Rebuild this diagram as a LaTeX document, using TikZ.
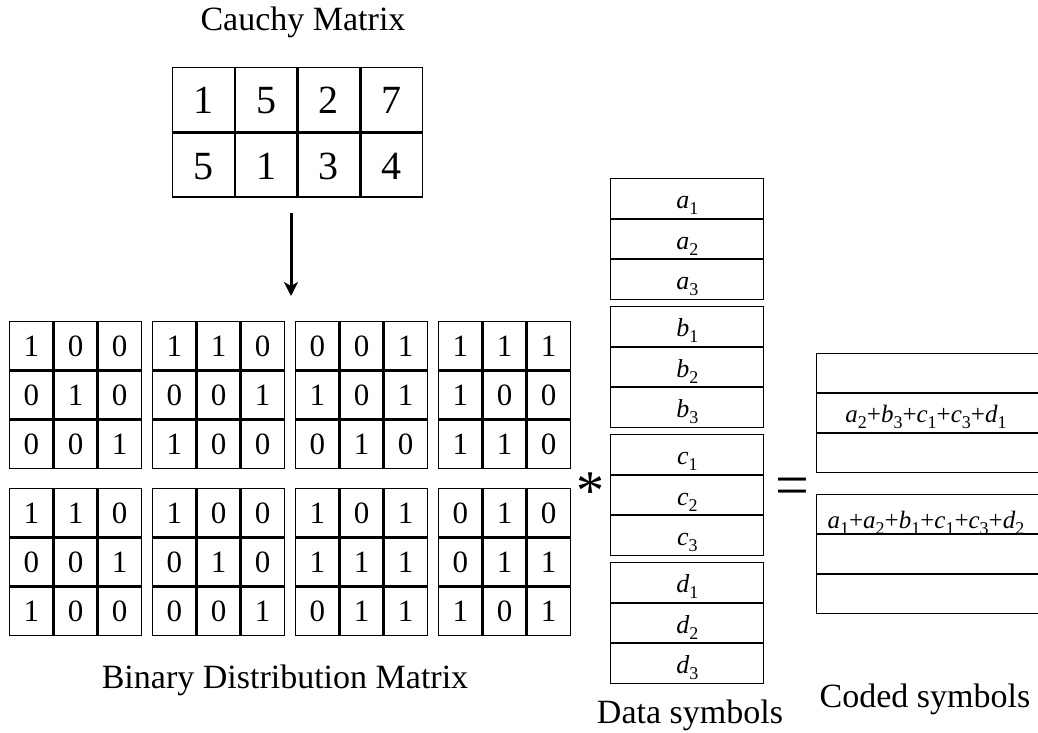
\documentclass[tikz,border=0pt]{standalone}
\usepackage{fontspec}
\setmainfont{Liberation Serif}
\usetikzlibrary{matrix,positioning,arrows.meta}
\tikzset{>={Stealth[length=14pt,width=14pt,inset=4pt]}}
\newcommand{\dsym}[2]{\textit{#1}\raisebox{-6pt}{\fontsize{18}{18}\selectfont #2}}
\tikzset{
  cell/.style={draw, line width=1.2pt, inner sep=0pt, outer sep=0pt},
  cauchy/.style={matrix of nodes, inner sep=0pt, anchor=north west,
    nodes={cell, minimum width=61.5pt, minimum height=64pt, text height=28pt, text depth=0pt, font=\fontsize{40}{40}\selectfont}},
  binary/.style={matrix of nodes, inner sep=0pt, anchor=north west,
    nodes={cell, minimum width=43pt, minimum height=48pt, text height=21pt, text depth=0pt, font=\fontsize{31}{31}\selectfont}},
  datasym/.style={matrix of nodes, inner sep=0pt, anchor=north west,
    nodes={cell, minimum width=153pt, minimum height=39.3pt, text height=24pt, text depth=3pt, font=\fontsize{26}{26}\selectfont}},
  coded/.style={matrix of nodes, nodes in empty cells, inner sep=0pt, anchor=north west,
    nodes={cell, minimum width=240pt, minimum height=38.7pt}},
  symtext/.style={font=\fontsize{25}{25}\selectfont, anchor=base, inner sep=0pt},
  caption/.style={font=\fontsize{34}{34}\selectfont, anchor=base},
}
\begin{document}
\begin{tikzpicture}[x=1pt,y=-1pt]
\path[use as bounding box, fill=white] (0,0) rectangle (1038,733);
% Cauchy matrix
\node[caption] (cauchytitle) at (303,31) {Cauchy Matrix};
\matrix (cauchy) [cauchy] at (172,67) {1 & 5 & 2 & 7 \\ 5 & 1 & 3 & 4 \\};
\coordinate (arrowtip) at (291,296);
\draw[->, line width=3pt] ([yshift=-15pt]cauchy.south -| arrowtip) -- (arrowtip);
% binary distribution matrix
\matrix (b1) [binary] at (9,321)   {1 & 0 & 0 \\ 0 & 1 & 0 \\ 0 & 0 & 1 \\};
\matrix (b2) [binary] at (152,321) {1 & 1 & 0 \\ 0 & 0 & 1 \\ 1 & 0 & 0 \\};
\matrix (b3) [binary] at (295,321) {0 & 0 & 1 \\ 1 & 0 & 1 \\ 0 & 1 & 0 \\};
\matrix (b4) [binary] at (438,321) {1 & 1 & 1 \\ 1 & 0 & 0 \\ 1 & 1 & 0 \\};
\matrix (b5) [binary] at (9,488)   {1 & 1 & 0 \\ 0 & 0 & 1 \\ 1 & 0 & 0 \\};
\matrix (b6) [binary] at (152,488) {1 & 0 & 0 \\ 0 & 1 & 0 \\ 0 & 0 & 1 \\};
\matrix (b7) [binary] at (295,488) {1 & 0 & 1 \\ 1 & 1 & 1 \\ 0 & 1 & 1 \\};
\matrix (b8) [binary] at (438,488) {0 & 1 & 0 \\ 0 & 1 & 1 \\ 1 & 0 & 1 \\};
\node[caption] (bintitle) at (285,688) {Binary Distribution Matrix};
% data symbols
\node[font=\fontsize{56}{56}\selectfont, anchor=base] (times) at (590,509) {*};
\matrix (da) [datasym] at (610,178) {\dsym{a}{1} \\ \dsym{a}{2} \\ \dsym{a}{3} \\};
\matrix (db) [datasym] at (610,306) {\dsym{b}{1} \\ \dsym{b}{2} \\ \dsym{b}{3} \\};
\matrix (dc) [datasym] at (610,434) {\dsym{c}{1} \\ \dsym{c}{2} \\ \dsym{c}{3} \\};
\matrix (dd) [datasym] at (610,562) {\dsym{d}{1} \\ \dsym{d}{2} \\ \dsym{d}{3} \\};
\node[caption] (datatitle) at (690,723) {Data symbols};
% coded symbols
\node[font=\fontsize{60}{60}\selectfont, anchor=base] (equals) at (792,505) {=};
\matrix (ca) [coded] at (816,353) {\\ \\ \\};
\matrix (cb) [coded] at (816,494) {\\ \\ \\};
\node[symtext] (s1) at (926,422) {\dsym{a}{2}+\dsym{b}{3}+\dsym{c}{1}+\dsym{c}{3}+\dsym{d}{1}};
\node[symtext] (s2) at (926,528) {\dsym{a}{1}+\dsym{a}{2}+\dsym{b}{1}+\dsym{c}{1}+\dsym{c}{3}+\dsym{d}{2}};
\node[caption] (codedtitle) at (925,707) {Coded symbols};
\end{tikzpicture}
\end{document}
